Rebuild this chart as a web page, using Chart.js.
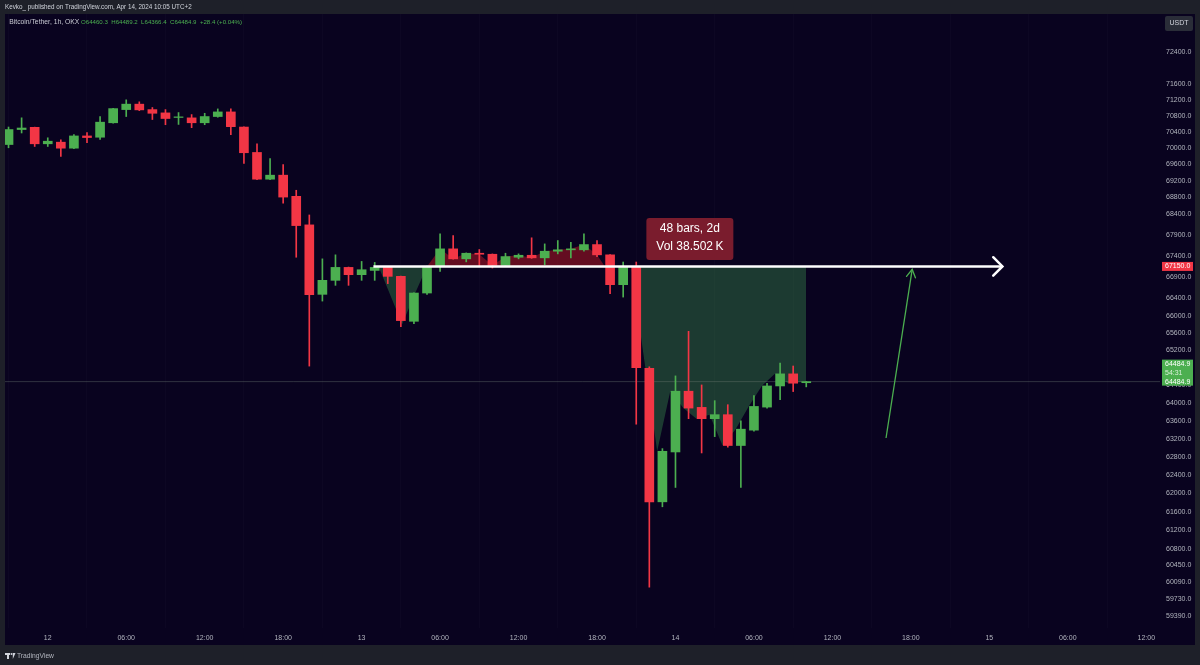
<!DOCTYPE html>
<html>
<head>
<meta charset="utf-8">
<script src="https://cdn.jsdelivr.net/npm/chart.js@4.4.1/dist/chart.umd.min.js"></script>
<style>
html, body { margin: 0; padding: 0; background: #1e2029; }
canvas { display: block; }
</style>
</head>
<body>
<canvas id="chart" width="1200" height="665"></canvas>
<script>
// hourly candles, hour 0 = Apr 12 00:00
const hours = [-3,-2,-1,0,1,2,3,4,5,6,7,8,9,10,11,12,13,14,15,16,17,18,19,20,21,22,23,24,25,26,27,28,29,30,31,32,33,34,35,36,37,38,39,40,41,42,43,44,45,46,47,48,49,50,51,52,53,54,55,56,57,58];
const opens = [70090,70460,70515,70108,70148,70000,70302,70270,70628,70956,71092,70956,70874,70760,70750,70628,70783,70898,70522,69895,69241,69339,68825,68138,66494,66822,67127,66956,67056,67127,66916,65867,66525,67150,67566,67329,67462,67438,67174,67367,67414,67353,67510,67543,67543,67668,67424,66721,67150,64786,61817,62910,64268,63904,63651,63740,63053,63394,63910,64387,64661,64460.3];
const highs = [70523,70751,70520,70256,70207,70336,70385,70783,70990,71200,71150,71008,70956,70882,70832,70864,70973,70973,70530,70108,69746,69600,68972,68376,67329,67424,67135,67268,67245,67135,66925,66530,67158,67924,67883,67470,67550,67445,67462,67447,67829,67684,67764,67724,67924,67764,67430,67254,67254,64822,62984,64615,65635,64410,64055,63964,63600,64167,64448,64909,64840,64489.2];
const lows = [70010,70375,70042,70042,69798,69985,70133,70213,70620,70783,70930,70709,70580,70587,70506,70580,70766,70336,69624,69230,69230,68660,67367,64838,66337,66705,66705,66822,66822,66745,65744,65814,66494,67033,67320,67258,67150,67112,67150,67329,67340,67190,67447,67353,67510,67383,66510,66430,63527,59990,61709,62130,63651,62888,63250,63016,62130,63372,63888,64078,64260,64366.4];
const closes = [70460,70498,70108,70172,70000,70302,70262,70643,70981,71092,70949,70864,70734,70775,70628,70783,70898,70532,69888,69241,69339,68807,68121,66487,66822,67127,66956,67072,67127,66916,65883,66525,67150,67566,67329,67462,67438,67174,67383,67414,67353,67510,67543,67566,67668,67424,66721,67150,64800,61817,62925,64268,63888,63651,63740,63053,63416,63925,64387,64661,64449,64484.9];

const timeTicks = [0,6,12,18,24,30,36,42,48,54,60,66,72,78,84];
const timeLabels = ['12','06:00','12:00','18:00','13','06:00','12:00','18:00','14','06:00','12:00','18:00','15','06:00','12:00'];
const priceTicks = [72400,71600,71200,70800,70400,70000,69600,69200,68800,68400,67900,67400,66900,66400,66000,65600,65200,64400,64000,63600,63200,62800,62400,62000,61600,61200,60800,60450,60090,59730,59390];

const levelPrice = 67150;
const lastPrice = 64484.9;
const levelHours = [24.9, 73];
const targetHours = [64.1, 66.1];
const targetPrices = [63220, 67080];

// shaded area between the level line and the price path
const fillHours = [25.3,27.1,28.1,29,30,31,32,33,34,35,36,37,38,39,40,41,42,42.6,43.6,44.6,46.6,47.6,48.6,49.6,50.6,51.6,52.6,53.6,54.6,55.6,56.6,58];
const fillPrices = [67150,65800,66525,67150,67566,67329,67462,67438,67174,67383,67414,67353,67510,67543,67566,67668,67424,67150,null,67150,62925,64268,63888,63651,63740,63053,63416,63925,64387,64661,64449,64485];

const xMin = -3.27, xMax = 85.05;
const yMin = 59135, yMax = 73381;

const UP = '#4caf50', DOWN = '#f23645';
const candleColor = ctx => closes[ctx.dataIndex] >= opens[ctx.dataIndex] ? UP : DOWN;

function fitText(c, txt, x, y, w, family) {
    c.font = '10px ' + family;
    const s = 10 * w / c.measureText(txt).width;
    c.font = s.toFixed(2) + 'px ' + family;
    c.fillText(txt, x, y);
}

function arrowHead(c, x0, y0, x1, y1, len, ang) {
    const a = Math.atan2(y1 - y0, x1 - x0);
    c.beginPath();
    c.moveTo(x1 - len * Math.cos(a - ang), y1 - len * Math.sin(a - ang));
    c.lineTo(x1, y1);
    c.lineTo(x1 - len * Math.cos(a + ang), y1 - len * Math.sin(a + ang));
    c.stroke();
}

const tvFrame = {
    id: 'tvFrame',
    beforeDraw(chart) {
        const c = chart.ctx;
        c.save();
        c.fillStyle = '#1e2029';
        c.fillRect(0, 0, 1200, 665);
        c.fillStyle = '#09031f';
        c.fillRect(5, 14, 1190, 631);
        c.restore();
    },
    afterDatasetsDraw(chart) {
        const c = chart.ctx, xs = chart.scales.x, ys = chart.scales.y;
        c.save();
        c.lineCap = 'round';
        // white level arrow head
        c.strokeStyle = '#ffffff';
        c.lineWidth = 2.5;
        arrowHead(c, xs.getPixelForValue(levelHours[0]), ys.getPixelForValue(levelPrice),
            xs.getPixelForValue(levelHours[1]), ys.getPixelForValue(levelPrice), 13, Math.PI / 4);
        // green target arrow head
        c.strokeStyle = UP;
        c.lineWidth = 1.3;
        arrowHead(c, xs.getPixelForValue(targetHours[0]), ys.getPixelForValue(targetPrices[0]),
            xs.getPixelForValue(targetHours[1]), ys.getPixelForValue(targetPrices[1]), 9, Math.PI / 6);

        // date range label
        const bx = xs.getPixelForValue(49.1), by = ys.getPixelForValue(levelPrice) - 6.5;
        c.fillStyle = '#7a1c2d';
        c.beginPath();
        c.roundRect(bx - 43.5, by - 42, 87, 42, 3);
        c.fill();
        c.fillStyle = '#ffffff';
        c.textAlign = 'center';
        c.textBaseline = 'middle';
        c.font = '12px "Liberation Sans", Arial, sans-serif';
        c.fillText('48 bars, 2d', bx, by - 31);
        c.fillText('Vol 38.502\u2009K', bx, by - 13);
        c.restore();
    },
    afterDraw(chart) {
        const c = chart.ctx, ys = chart.scales.y;
        const fam = '"Liberation Sans", Arial, sans-serif';
        c.save();
        c.textBaseline = 'middle';
        c.textAlign = 'left';
        // top bar
        c.fillStyle = '#d1d4dc';
        fitText(c, 'Kevko_ published on TradingView.com, Apr 14, 2024 10:05 UTC+2', 5, 7.5, 187, fam);
        // legend
        c.fillStyle = '#c8cad2';
        fitText(c, 'Bitcoin/Tether, 1h, OKX', 9.3, 22.3, 70, fam);
        c.fillStyle = UP;
        fitText(c, 'O64460.3  H64489.2  L64366.4  C64484.9  +28.4 (+0.04%)', 81, 22.3, 161, fam);

        // USDT button
        c.fillStyle = '#2a2d38';
        c.beginPath();
        c.roundRect(1165, 16, 28, 15, 2);
        c.fill();
        c.fillStyle = '#d1d4dc';
        c.textAlign = 'center';
        c.font = '7px ' + fam;
        c.fillText('USDT', 1179, 23.5);

        // price badges
        const ly = ys.getPixelForValue(levelPrice);
        c.fillStyle = '#f23645';
        c.fillRect(1162, ly - 4.5, 31, 9);
        c.fillStyle = '#ffffff';
        c.textAlign = 'left';
        c.fillText('67150.0', 1165, ly);

        const py = ys.getPixelForValue(lastPrice);
        c.fillStyle = UP;
        c.fillRect(1162, py - 22, 31, 26);
        c.fillStyle = '#ffffff';
        c.fillText('64484.9', 1165, py - 17.4);
        c.fillStyle = '#d8f0d8';
        c.fillText('54:31', 1165, py - 9);
        c.fillStyle = '#ffffff';
        c.fillText('64484.9', 1165, py);

        // footer
        c.fillStyle = '#d1d4dc';
        c.fillRect(5, 653, 5, 2);
        c.fillRect(7, 653, 2, 6);
        c.beginPath();
        c.arc(11.5, 654, 1, 0, Math.PI * 2);
        c.fill();
        c.beginPath();
        c.moveTo(12.8, 653); c.lineTo(15.5, 653); c.lineTo(12.8, 659);
        c.fill();
        c.fillStyle = '#b2b5be';
        c.textAlign = 'left';
        fitText(c, 'TradingView', 17, 656.5, 37, fam);
        c.restore();
    }
};

new Chart(document.getElementById('chart'), {
    type: 'bar',
    data: {
        datasets: [
            {
                type: 'line',
                label: 'range fill',
                data: fillHours.map((h, i) => ({ x: h, y: fillPrices[i] })),
                borderWidth: 0,
                pointRadius: 0,
                spanGaps: false,
                fill: { target: { value: levelPrice }, above: 'rgba(175,22,35,0.55)', below: 'rgba(60,150,80,0.38)' },
                order: 5
            },
            {
                type: 'line',
                label: 'last price',
                data: [{ x: xMin, y: lastPrice }, { x: xMax, y: lastPrice }],
                borderColor: 'rgba(110,125,115,0.4)',
                borderWidth: 1,
                pointRadius: 0,
                order: 4
            },
            {
                label: 'wicks',
                data: hours.map((h, i) => ({ x: h, y: [lows[i], highs[i]] })),
                backgroundColor: candleColor,
                barThickness: 1,
                grouped: false,
                borderWidth: 0,
                order: 3
            },
            {
                label: 'bodies',
                data: hours.map((h, i) => ({ x: h, y: [opens[i], closes[i]] })),
                backgroundColor: candleColor,
                barThickness: 9,
                grouped: false,
                borderWidth: 0,
                borderSkipped: false,
                order: 2
            },
            {
                type: 'line',
                label: 'level',
                data: levelHours.map(h => ({ x: h, y: levelPrice })),
                borderColor: '#ffffff',
                borderWidth: 2.5,
                pointRadius: 0,
                order: 1
            },
            {
                type: 'line',
                label: 'target',
                data: targetHours.map((h, i) => ({ x: h, y: targetPrices[i] })),
                borderColor: UP,
                borderWidth: 1.3,
                pointRadius: 0,
                order: 1
            }
        ]
    },
    options: {
        responsive: false,
        devicePixelRatio: 1,
        animation: false,
        layout: { padding: { left: 5, right: 5, top: 14, bottom: 20 } },
        plugins: { legend: { display: false }, tooltip: { enabled: false } },
        scales: {
            x: {
                type: 'linear',
                min: xMin,
                max: xMax,
                offset: false,
                afterBuildTicks: s => { s.ticks = timeTicks.map(v => ({ value: v })); },
                afterFit: s => { s.height = 17; },
                ticks: {
                    autoSkip: false,
                    maxRotation: 0,
                    padding: 6,
                    color: '#b2b5be',
                    font: { size: 7, family: '"Liberation Sans", Arial, sans-serif' },
                    callback: (v, i) => timeLabels[i]
                },
                grid: { color: 'rgba(255,255,255,0.018)', drawTicks: false },
                border: { display: false }
            },
            y: {
                type: 'logarithmic',
                position: 'right',
                min: yMin,
                max: yMax,
                afterBuildTicks: s => { s.ticks = priceTicks.map(v => ({ value: v })); },
                afterFit: s => { s.width = 35; },
                ticks: {
                    autoSkip: false,
                    padding: 6,
                    color: '#b2b5be',
                    font: { size: 7, family: '"Liberation Sans", Arial, sans-serif' },
                    callback: v => Number(v).toFixed(1)
                },
                grid: { display: false, drawTicks: false },
                border: { display: false }
            }
        }
    },
    plugins: [tvFrame]
});
</script>
</body>
</html>
